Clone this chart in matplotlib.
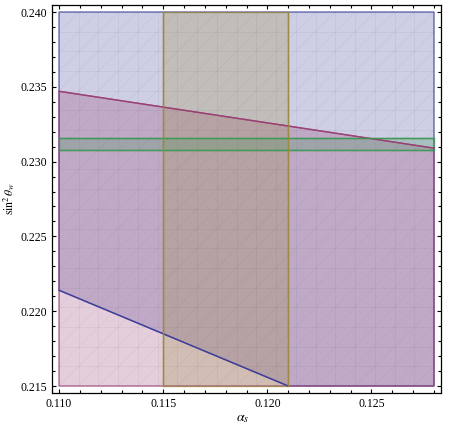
import numpy as np
import matplotlib
matplotlib.use("Agg")
import matplotlib.pyplot as plt
from matplotlib.patches import Polygon
from matplotlib.ticker import MultipleLocator, FormatStrFormatter

# ---- data ----
x_range = [0.110, 0.128]
y_range = [0.215, 0.240]
blue_line_x = [0.110, 0.121]
blue_line_y = [0.2214, 0.215]
pink_line_x = [0.110, 0.128]
pink_line_y = [0.2347, 0.2309]
olive_band_x = [0.115, 0.121]
green_band_y = [0.2308, 0.2316]
x_ticks = [0.110, 0.115, 0.120, 0.125]
y_ticks = [0.215, 0.220, 0.225, 0.230, 0.235, 0.240]

c_blue = (0.24, 0.24, 0.6)
c_pink = (0.6, 0.24, 0.442)
c_olive = (0.6, 0.547, 0.24)
c_green = (0.24, 0.6, 0.33)

plt.rcParams['font.family'] = ['Liberation Serif', 'DejaVu Serif']
plt.rcParams['mathtext.fontset'] = 'stix'

fig = plt.figure(figsize=(4.65, 4.40), dpi=100)
ax = fig.add_axes([52/465, 47/440, (441-52)/465, (435-47)/440])

x0, x1 = x_range
y0, y1 = y_range

blue_poly = [(blue_line_x[0], blue_line_y[0]), (blue_line_x[1], blue_line_y[1]),
             (x1, y0), (x1, y1), (x0, y1)]
pink_poly = [(pink_line_x[0], pink_line_y[0]), (pink_line_x[1], pink_line_y[1]),
             (x1, y0), (x0, y0)]
olive_poly = [(olive_band_x[0], y0), (olive_band_x[1], y0),
              (olive_band_x[1], y1), (olive_band_x[0], y1)]
green_poly = [(x0, green_band_y[0]), (x1, green_band_y[0]),
              (x1, green_band_y[1]), (x0, green_band_y[1])]

for poly, c in [(blue_poly, c_blue), (pink_poly, c_pink),
                (olive_poly, c_olive), (green_poly, c_green)]:
    ax.add_patch(Polygon(poly, closed=True, facecolor=c, alpha=0.25,
                         edgecolor='none', zorder=2))
    ax.add_patch(Polygon(poly, closed=True, facecolor='none',
                         edgecolor=c + (0.75,), lw=1.0, zorder=4))

# boundary lines (stronger)
ax.plot(blue_line_x, blue_line_y, color=c_blue, lw=1.0, alpha=0.9, zorder=5)
ax.plot(pink_line_x, pink_line_y, color=c_pink, lw=1.0, alpha=0.9, zorder=5)
ax.plot([x0, x1], [green_band_y[0]] * 2, color=c_green, lw=1.0, alpha=0.8, zorder=5)
ax.plot([x0, x1], [green_band_y[1]] * 2, color=c_green, lw=1.0, alpha=0.9, zorder=5)
for xv in olive_band_x:
    ax.plot([xv, xv], [y0, y1], color=c_olive, lw=1.0, alpha=0.9, zorder=5)

# faint mesh texture (styling only)
N = 19
mesh_kw = dict(color=(0.3, 0.3, 0.3), lw=0.5, alpha=0.09, zorder=3)
for i in range(N + 1):
    xv = x0 + (x1 - x0) * i / N
    yv = y0 + (y1 - y0) * i / N
    ax.plot([xv, xv], [y0, y1], **mesh_kw)
    ax.plot([x0, x1], [yv, yv], **mesh_kw)
for k in range(-N, N + 1):
    uu = np.clip(np.array([max(0, k / N), min(1, 1 + k / N)]), 0, 1)
    vv = uu - k / N
    ax.plot(x0 + (x1 - x0) * uu, y0 + (y1 - y0) * vv,
            color=(0.3, 0.3, 0.3), lw=0.5, alpha=0.14, ls=(0, (1, 1)), zorder=3)

pad_x = 7 / 104 * 0.005
pad_y = 7 / 14960
ax.set_xlim(x0 - pad_x, x1 + pad_x)
ax.set_ylim(y0 - pad_y, y1 + pad_y)

ax.set_xticks(x_ticks)
ax.set_yticks(y_ticks)
ax.xaxis.set_major_formatter(FormatStrFormatter('%.3f'))
ax.yaxis.set_major_formatter(FormatStrFormatter('%.3f'))
ax.xaxis.set_minor_locator(MultipleLocator(0.001))
ax.yaxis.set_minor_locator(MultipleLocator(0.001))
ax.tick_params(which='both', direction='in', top=True, right=True,
               labelsize=8.5, width=0.8, color='black')
ax.tick_params(which='major', length=3.2)
ax.tick_params(which='minor', length=2.0)
for sp in ax.spines.values():
    sp.set_linewidth(0.9)

ax.set_xlabel(r'$\alpha_s$', fontsize=10)
ax.xaxis.set_label_coords((243 - 52) / 389, (393 - 412) / 388)
ax.set_ylabel(r'$\sin^2\theta_w$', fontsize=8.5)
ax.yaxis.set_label_coords((17 - 52) / 389, 0.5)

fig.savefig('out.png', dpi=100)
